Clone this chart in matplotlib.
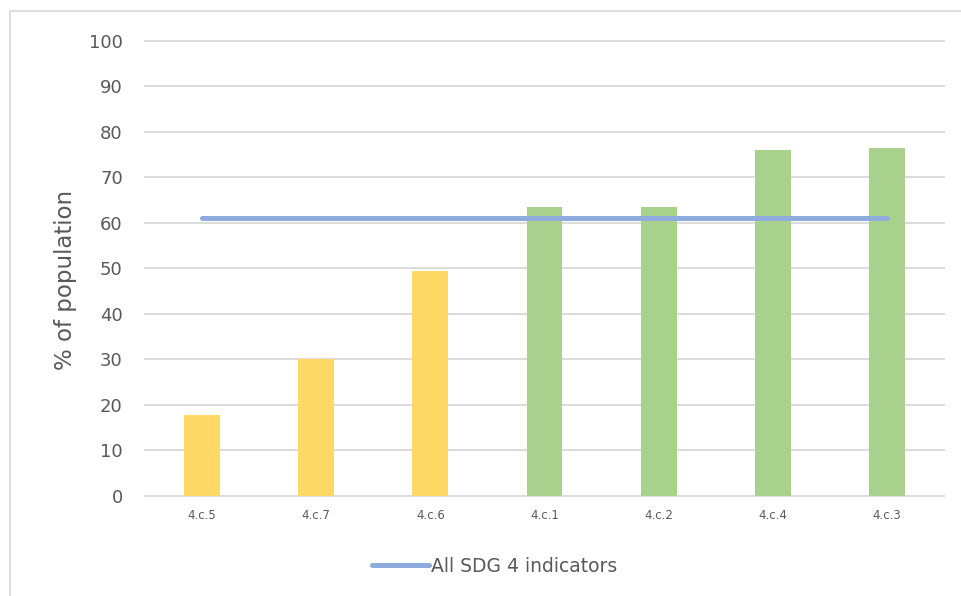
import matplotlib.pyplot as plt
from matplotlib.patches import Rectangle

# share of population per SDG 4.c indicator
indicators = ["4.c.5", "4.c.7", "4.c.6", "4.c.1", "4.c.2", "4.c.4", "4.c.3"]
values = [17.8, 30.1, 49.4, 63.4, 63.4, 76.0, 76.4]
bar_colors = ["#FFD966", "#FFD966", "#FFD966", "#A9D18E", "#A9D18E", "#A9D18E", "#A9D18E"]
all_sdg4 = [61.0] * len(indicators)
yticks = list(range(0, 101, 10))

text_color = "#595959"
grid_color = "#D9D9D9"

fig = plt.figure(figsize=(9.61, 5.96), dpi=100)
ax = fig.add_axes([0.1509, 0.1686, 0.9823 - 0.1509, 0.9312 - 0.1686])

x = range(len(indicators))
ax.bar(x, values, width=0.315, color=bar_colors, zorder=2)
ax.plot(x, all_sdg4, color="#8FAADC", lw=3.6, solid_capstyle="round",
        label="All SDG 4 indicators", zorder=3)

ax.set_xlim(-0.5, len(indicators) - 0.5)
ax.set_ylim(0, 100)
ax.set_yticks(yticks)
ax.set_xticks(list(x))
ax.set_xticklabels(indicators)
ax.yaxis.grid(True, color=grid_color, lw=1.3, zorder=0)
for gl in ax.get_ygridlines():
    gl.set_clip_on(False)
ax.set_axisbelow(True)
for s in ax.spines.values():
    s.set_visible(False)
ax.tick_params(axis="both", length=0, colors=text_color)
ax.tick_params(axis="y", labelsize=13, pad=16)
ax.tick_params(axis="x", labelsize=8.5, pad=10)

ax.set_ylabel("% of population", fontsize=16.5, color=text_color)
ax.yaxis.set_label_coords(-0.085, 0.474)

leg = fig.legend(loc="center", bbox_to_anchor=(495 / 961, 1 - 566 / 596),
                 frameon=False, fontsize=13.5, handlelength=3.0,
                 handletextpad=0.15, labelcolor=text_color)

# chart area border
fig.patches.append(Rectangle((10 / 961, -0.1), 1.2, 0.1 + (596 - 11) / 596,
                             transform=fig.transFigure, fill=False,
                             edgecolor=grid_color, lw=1.2))

fig.savefig("out.png", dpi=100)
